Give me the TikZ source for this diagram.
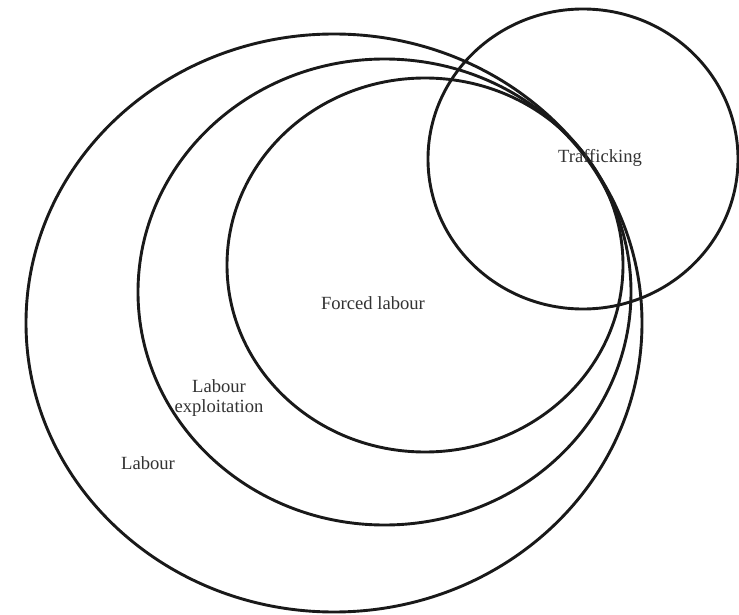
\documentclass[tikz,border=0pt]{standalone}
\usepackage{fontspec}
\setmainfont{Liberation Serif}
\usetikzlibrary{shapes.geometric}
\tikzset{
  ring/.style={ellipse, draw=black!90, line width=2.9pt, inner sep=0pt, outer sep=0pt},
  lbl/.style={font=\fontsize{18.6}{19.8}\selectfont, text=black!80, align=center, inner sep=0pt}
}
\begin{document}
\begin{tikzpicture}[x=1pt,y=-1pt]
\useasboundingbox (0,0) rectangle (739,615);
\node[ring, minimum width=616pt, minimum height=578pt] (labour) at (334,323) {};
\node[ring, minimum width=493pt, minimum height=466pt] (exploit) at (384.5,292) {};
\node[ring, minimum width=396pt, minimum height=374pt] (forced) at (425,265) {};
\node[ring, minimum width=310pt, minimum height=300pt] (traff) at (583,159) {};
\node[lbl, anchor=base] (tl) at (600,162) {Trafficking};
\node[lbl, anchor=base] (fl) at (373,309) {Forced labour};
\node[lbl, anchor=center] (el) at (219,398) {Labour\\exploitation};
\node[lbl, anchor=base] (ll) at (148,469) {Labour};
\end{tikzpicture}
\end{document}
